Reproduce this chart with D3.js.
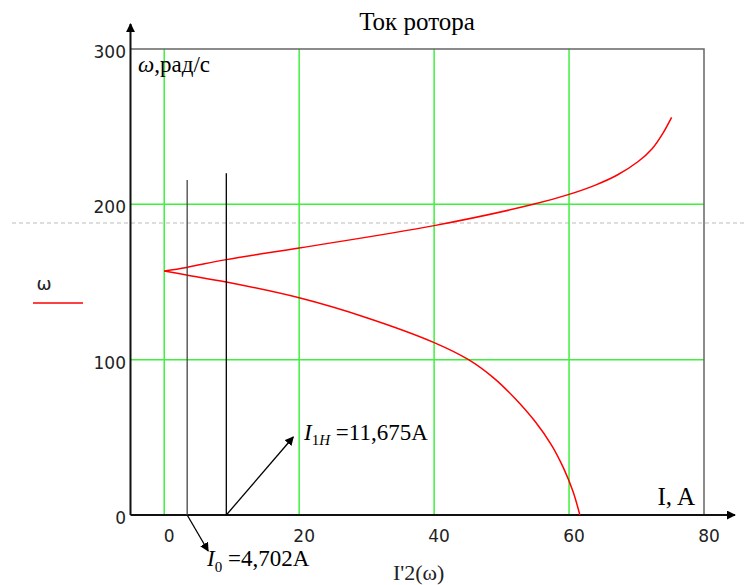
<!DOCTYPE html>
<html>
<head>
<meta charset="utf-8">
<script src="https://cdn.jsdelivr.net/npm/d3@7"></script>
<style>
  body { margin: 0; background: #fff; }
  svg { display: block; }
</style>
</head>
<body>
<div id="chart"></div>
<script>
// rotor speed, rad/s (parameter of the curve); the two branches meet at omega0 = 157.1
const omegaLow = [0, 15, 30, 45, 60, 75, 88, 100, 111, 127, 139.8, 150, 154.5, 157.1];
const currentLow = [61.6, 60.6, 59.2, 57.4, 55.0, 52.0, 48.9, 45.1, 40, 30, 20, 9.2, 3.3, 0];
const omegaHigh = [157.1, 159.4, 164.4, 171.9, 186.3, 200, 206.4, 212.4, 218.9, 227.4, 236, 245.7, 256];
const currentHigh = [0, 3.3, 9.2, 20, 40, 54.7, 60, 63.9, 67.15, 70.2, 72.35, 73.9, 75.2];

const xTicks = [0, 20, 40, 60, 80];
const yTicks = [0, 100, 200, 300];
const xGrid = [0, 20, 40, 60];
const yGrid = [100, 200];

// marker lines as drawn in the picture
const markers = [
  { name: "I0", i: 3.4, top: 215.6, label: "=4,702A", color: "#444" },
  { name: "I1H", i: 9.2, top: 220, label: "=11,675A", color: "#000" }
];

const W = 746, H = 585;
const pLeft = 130.5, pRight = 704, pTop = 49, pBottom = 515;

const x = d3.scaleLinear().domain([-5, 80]).range([pLeft, pRight]);
const y = d3.scaleLinear().domain([0, 300]).range([pBottom, pTop]);

const svg = d3.select("#chart").append("svg")
  .attr("width", W)
  .attr("height", H);

const defs = svg.append("defs");
defs.append("marker")
  .attr("id", "arr")
  .attr("viewBox", "0 0 10 10")
  .attr("refX", 9).attr("refY", 5)
  .attr("markerWidth", 9).attr("markerHeight", 9)
  .attr("markerUnits", "userSpaceOnUse")
  .attr("orient", "auto")
  .append("path")
  .attr("d", "M0,0 L10,5 L0,10 z")
  .attr("fill", "#000");

// dashed page guide
svg.append("line")
  .attr("x1", 12).attr("x2", W)
  .attr("y1", 223).attr("y2", 223)
  .attr("stroke", "#bbb")
  .attr("stroke-width", 1)
  .attr("stroke-dasharray", "4,3");

// grid
svg.append("g").selectAll("line")
  .data(xGrid)
  .enter().append("line")
  .attr("x1", d => x(d)).attr("x2", d => x(d))
  .attr("y1", pTop).attr("y2", pBottom)
  .attr("stroke", "#3ef03e")
  .attr("stroke-width", 1.5);

svg.append("g").selectAll("line")
  .data(yGrid)
  .enter().append("line")
  .attr("x1", pLeft).attr("x2", pRight)
  .attr("y1", d => y(d)).attr("y2", d => y(d))
  .attr("stroke", "#3ef03e")
  .attr("stroke-width", 1.5);

// frame top / right
svg.append("path")
  .attr("d", `M${pLeft},${pTop} H${pRight} V${pBottom}`)
  .attr("fill", "none")
  .attr("stroke", "#666")
  .attr("stroke-width", 1.5);

// axes with arrows
svg.append("line")
  .attr("x1", pLeft).attr("x2", pLeft)
  .attr("y1", pBottom).attr("y2", 24)
  .attr("stroke", "#111").attr("stroke-width", 2)
  .attr("marker-end", "url(#arr)");
svg.append("line")
  .attr("x1", pLeft).attr("x2", 735)
  .attr("y1", pBottom).attr("y2", pBottom)
  .attr("stroke", "#111").attr("stroke-width", 2)
  .attr("marker-end", "url(#arr)");

// tick labels
svg.append("g").selectAll("text")
  .data(xTicks)
  .enter().append("text")
  .attr("x", d => x(d) + 5)
  .attr("y", 542)
  .attr("text-anchor", "middle")
  .style("font-family", "DejaVu Sans")
  .style("font-size", "17px")
  .attr("fill", "#222")
  .text(d => d);

svg.append("g").selectAll("text")
  .data(yTicks)
  .enter().append("text")
  .attr("x", 126)
  .attr("y", d => y(d) + 9)
  .attr("text-anchor", "end")
  .style("font-family", "DejaVu Sans")
  .style("font-size", "17px")
  .attr("fill", "#222")
  .text(d => d);

// curve, two branches meeting at the cusp (synchronous speed)
const line = d3.line()
  .x(d => x(d[0]))
  .y(d => y(d[1]))
  .curve(d3.curveCatmullRom.alpha(0.5));

const branches = [
  omegaLow.map((w, i) => [currentLow[i], w]),
  omegaHigh.map((w, i) => [currentHigh[i], w])
];

svg.append("g").selectAll("path")
  .data(branches)
  .enter().append("path")
  .attr("d", d => line(d))
  .attr("fill", "none")
  .attr("stroke", "#ff0000")
  .attr("stroke-width", 1.5);

// marker lines
svg.append("g").selectAll("line")
  .data(markers)
  .enter().append("line")
  .attr("x1", d => x(d.i)).attr("x2", d => x(d.i))
  .attr("y1", d => y(d.top)).attr("y2", pBottom)
  .attr("stroke", d => d.color)
  .attr("stroke-width", 1.3);

// arrows to the annotations
svg.append("line")
  .attr("x1", x(markers[0].i)).attr("y1", pBottom)
  .attr("x2", x(markers[0].i) + 21).attr("y2", pBottom + 36)
  .attr("stroke", "#000").attr("stroke-width", 1.3)
  .attr("marker-end", "url(#arr)");
svg.append("line")
  .attr("x1", x(markers[1].i)).attr("y1", pBottom)
  .attr("x2", x(markers[1].i) + 67).attr("y2", pBottom - 78)
  .attr("stroke", "#000").attr("stroke-width", 1.3)
  .attr("marker-end", "url(#arr)");

const serif = "Liberation Serif";

// annotation labels
const a0 = svg.append("text")
  .attr("x", 207).attr("y", 566)
  .style("font-family", serif).style("font-size", "23px");
a0.append("tspan").style("font-style", "italic").text("I");
a0.append("tspan").attr("dy", 6).style("font-size", "15px").text("0");
a0.append("tspan").attr("dy", -6).text(" " + markers[0].label);

const a1 = svg.append("text")
  .attr("x", 304).attr("y", 440)
  .style("font-family", serif).style("font-size", "23px");
a1.append("tspan").style("font-style", "italic").text("I");
a1.append("tspan").attr("dy", 5).style("font-size", "15px").text("1");
a1.append("tspan").style("font-size", "15px").style("font-style", "italic").text("H");
a1.append("tspan").attr("dy", -5).text(" " + markers[1].label);

// title and axis captions
svg.append("text")
  .attr("x", 417).attr("y", 30)
  .attr("text-anchor", "middle")
  .style("font-family", serif).style("font-size", "25px")
  .text("Ток ротора");

const wl = svg.append("text")
  .attr("x", 138).attr("y", 72)
  .style("font-family", serif).style("font-size", "23px");
wl.append("tspan").style("font-style", "italic").text("ω");
wl.append("tspan").text(",рад/с");

svg.append("text")
  .attr("x", 695).attr("y", 505)
  .attr("text-anchor", "end")
  .style("font-family", serif).style("font-size", "25px")
  .text("I, A");

svg.append("text")
  .attr("x", 393).attr("y", 580)
  .style("font-family", serif).style("font-size", "22px")
  .attr("fill", "#222")
  .text("I'2(ω)");

// legend
svg.append("text")
  .attr("x", 44).attr("y", 290)
  .attr("text-anchor", "middle")
  .style("font-family", "DejaVu Sans").style("font-size", "18px")
  .attr("fill", "#222")
  .text("ω");
svg.append("line")
  .attr("x1", 33).attr("x2", 83)
  .attr("y1", 303).attr("y2", 303)
  .attr("stroke", "#ff0000").attr("stroke-width", 1.5);
</script>
</body>
</html>
